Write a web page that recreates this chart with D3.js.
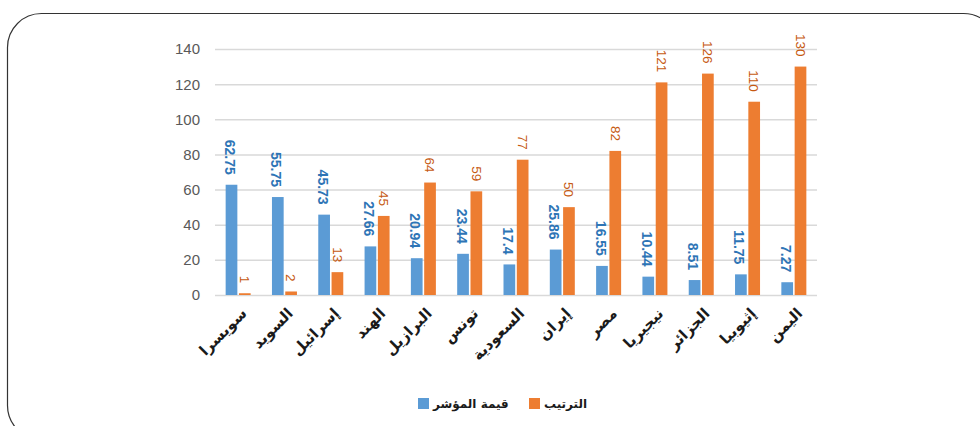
<!DOCTYPE html>
<html><head><meta charset="utf-8">
<script src="https://cdn.jsdelivr.net/npm/d3@7"></script>
<style>
html,body{margin:0;padding:0;background:#fff;}
svg{display:block;}
</style></head>
<body>
<svg id="chart" width="980" height="426"></svg>
<script>
const categories = ["سويسرا","السويد","إسرائيل","الهند","البرازيل","تونس","السعودية","إيران","مصر","نيجيريا","الجزائر","إثيوبيا","اليمن"];
const indexValues = [62.75,55.75,45.73,27.66,20.94,23.44,17.4,25.86,16.55,10.44,8.51,11.75,7.27];
const rankValues = [1,2,13,45,64,59,77,50,82,121,126,110,130];
const seriesNames = ["قيمة المؤشر","الترتيب"];
const yTicks = [0,20,40,60,80,100,120,140];

(function(){
const colors = ["#5b9bd5","#ed7d31"];
const labelColors = ["#2e75b6","#c65911"];
const series = [indexValues, rankValues];

const svg = d3.select("#chart");
svg.append("rect").attr("x",7.5).attr("y",13.5).attr("width",990).attr("height",426)
  .attr("rx",34).attr("ry",34).attr("fill","none").attr("stroke","#333").attr("stroke-width",1.2);

const pLeft = 215, pRight = 817, pTop = 49, pBottom = 295;
const x = d3.scaleBand().domain(categories).range([pLeft,pRight]).padding(0);
const y = d3.scaleLinear().domain([0,140]).range([pBottom,pTop]);
const sub = d3.scaleBand().domain([0,1]).range([-12.5,12.5]).paddingInner(0.12);

// gridlines
svg.append("g").selectAll("line").data(yTicks).join("line")
  .attr("x1",pLeft).attr("x2",pRight).attr("y1",d=>y(d)+0.5).attr("y2",d=>y(d)+0.5)
  .attr("stroke","#d9d9d9").attr("stroke-width",1.5);

// y labels
svg.append("g").selectAll("text").data(yTicks).join("text")
  .attr("x",200).attr("y",d=>y(d)).attr("dy","0.36em").attr("text-anchor","end")
  .attr("font-family","Liberation Sans, Arial, sans-serif").attr("font-size",15).attr("fill","#595959")
  .text(d=>d);

// bars
series.forEach((vals,si)=>{
  const g = svg.append("g");
  g.selectAll("rect").data(vals).join("rect")
    .attr("x",(d,i)=>x(categories[i])+x.bandwidth()/2+sub(si))
    .attr("width",sub.bandwidth())
    .attr("y",d=>y(d)).attr("height",d=>y(0)-y(d))
    .attr("fill",colors[si]);
  g.selectAll("text").data(vals).join("text")
    .attr("transform",(d,i)=>{
      const cx = x(categories[i])+x.bandwidth()/2+sub(si)+sub.bandwidth()/2 - (si===0?1.5:0);
      return `translate(${cx},${y(d)-10}) rotate(90)`;
    })
    .attr("text-anchor","end").attr("dy","0.35em")
    .attr("font-family","Liberation Sans, Arial, sans-serif")
    .attr("font-size",si===0?14:13.5).attr("font-weight",si===0?"bold":"normal")
    .attr("fill",labelColors[si])
    .text(d=>d);
});

// x labels
svg.append("g").selectAll("text").data(categories).join("text")
  .attr("transform",d=>`translate(${x(d)+x.bandwidth()/2+2},${307}) rotate(-45)`)
  .attr("text-anchor","end").attr("dy","0.7em")
  .attr("font-family","DejaVu Sans, sans-serif").attr("font-weight","bold").attr("font-size",15)
  .attr("fill","#1a1a1a")
  .text(d=>d);

// legend
const legend = [{name:seriesNames[0],c:colors[0],x:418},{name:seriesNames[1],c:colors[1],x:529}];
const lg = svg.append("g");
legend.forEach(l=>{
  lg.append("rect").attr("x",l.x).attr("y",398).attr("width",11).attr("height",11).attr("fill",l.c);
  lg.append("text").attr("x",l.x+15).attr("y",404).attr("dy","0.35em").attr("text-anchor","start")
    .attr("font-family","DejaVu Sans, sans-serif").attr("font-weight","bold").attr("font-size",12)
    .attr("fill","#1a1a1a").text(l.name);
});
})();
</script>
</body></html>
